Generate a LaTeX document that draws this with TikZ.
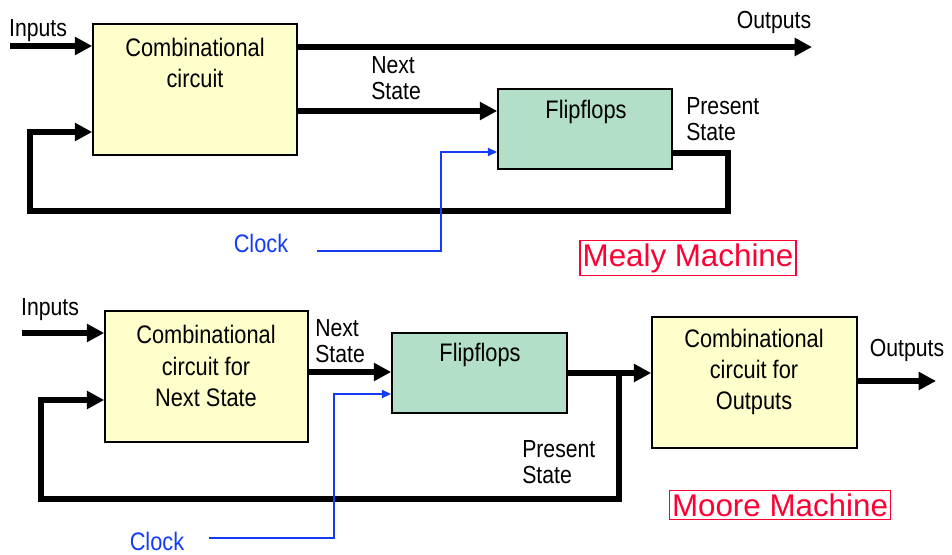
\documentclass[tikz,border=0pt]{standalone}
\usepackage{fontspec}
\usepackage{tikz}
\usetikzlibrary{arrows.meta,fit}
\setmainfont{Liberation Sans}
\newfontfamily\narrowsf[FakeStretch=0.86]{Liberation Sans}
\definecolor{boxyellow}{RGB}{255,255,204}
\definecolor{ffgreen}{RGB}{179,222,200}
\definecolor{clkblue}{RGB}{20,60,245}
\definecolor{titlered}{RGB}{255,0,51}
\tikzset{
  combbox/.style={draw, line width=1.2pt, fill=boxyellow, inner sep=0pt},
  ffbox/.style={draw, line width=1.2pt, fill=ffgreen, inner sep=0pt},
  boxtext/.style={align=center, font=\narrowsf\fontsize{19}{23.5}\selectfont},
  lbl/.style={align=left, inner sep=0pt, font=\narrowsf\fontsize{18.5}{19}\selectfont},
  sig/.style={line width=4.4pt, -{Triangle[length=13pt,width=13pt]}},
  clkline/.style={clkblue, line width=1.5pt, -{Triangle[length=7pt,width=6pt]}},
  clklbl/.style={clkblue, inner sep=0pt, font=\narrowsf\fontsize{19}{23}\selectfont},
  title/.style={draw=titlered, text=titlered, line width=0.9pt, inner sep=2pt,
    font=\fontsize{23.5}{28}\selectfont}
}
\begin{document}
\begin{tikzpicture}[x=0.75pt, y=-0.75pt]
  \useasboundingbox (0,0) rectangle (952,555);

  % Mealy machine
  \node[combbox, fit={(93,24) (297,155)}] (cc1) {};
  \node[ffbox, fit={(498,89) (672,169)}] (ff1) {};
  \node[boxtext] (cc1txt) at (195,63) {Combinational\\circuit};
  \node[boxtext] (ff1txt) at (586,112) {Flipflops};

  \coordinate (in1) at (10,46);
  \coordinate (out1) at (812,47);
  \coordinate (ns1) at (400,111);
  \coordinate (fb1) at (30,132);
  \coordinate (ps1) at (728,153);
  \coordinate (clk1a) at (317,251);
  \coordinate (clk1b) at (441,152);

  \draw[sig] (in1) -- (cc1.west |- in1);
  \draw[sig] (cc1.east |- out1) -- (out1);
  \draw[sig] (cc1.east |- ns1) -- (ff1.west |- ns1);
  \draw[sig] (ff1.east |- ps1) -| (728,211) -| (fb1) -- (cc1.west |- fb1);
  \draw[clkline] (clk1a) -| (clk1b) -- (ff1.west |- clk1b);

  \node[lbl] (inlbl1) at (38,31) {Inputs};
  \node[lbl] (outlbl1) at (774,22) {Outputs};
  \node[lbl, anchor=west] (nslbl1) at (371,78) {Next\\State};
  \node[lbl, anchor=west] (pslbl1) at (686,119) {Present\\State};
  \node[clklbl] (clklbl1) at (261,243) {Clock};
  \node[title] (mealy) at (688,258) {Mealy Machine};

  % Moore machine
  \node[combbox, fit={(105,311) (308,442)}] (cc2) {};
  \node[ffbox, fit={(392,333) (567,413)}] (ff2) {};
  \node[combbox, fit={(652,317) (857,448)}] (cc3) {};
  \node[boxtext] (cc2txt) at (206,366) {Combinational\\circuit for\\Next State};
  \node[boxtext] (ff2txt) at (480,355) {Flipflops};
  \node[boxtext] (cc3txt) at (754,372) {Combinational\\circuit for\\Outputs};

  \coordinate (in2) at (22,333);
  \coordinate (ns2) at (350,372);
  \coordinate (jn2) at (619,373);
  \coordinate (fb2) at (41,400);
  \coordinate (out2) at (936,381);
  \coordinate (clk2a) at (209,538);
  \coordinate (clk2b) at (334,394);

  \draw[sig] (in2) -- (cc2.west |- in2);
  \draw[sig] (cc2.east |- ns2) -- (ff2.west |- ns2);
  \draw[sig] (ff2.east |- jn2) -- (cc3.west |- jn2);
  \draw[sig] (jn2) -- (619,499) -| (fb2) -- (cc2.west |- fb2);
  \draw[sig] (cc3.east |- out2) -- (out2);
  \draw[clkline] (clk2a) -| (clk2b) -- (ff2.west |- clk2b);

  \node[lbl] (inlbl2) at (50,310) {Inputs};
  \node[lbl] (outlbl2) at (907,350) {Outputs};
  \node[lbl, anchor=west] (nslbl2) at (315,341) {Next\\State};
  \node[lbl, anchor=west] (pslbl2) at (522,462) {Present\\State};
  \node[clklbl] (clklbl2) at (157,541) {Clock};
  \node[title] (moore) at (780,505) {Moore Machine};
\end{tikzpicture}
\end{document}
